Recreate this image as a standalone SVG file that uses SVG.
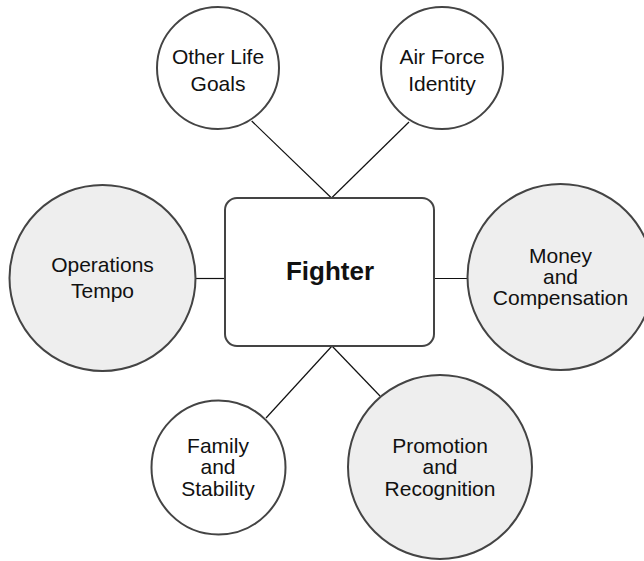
<svg xmlns="http://www.w3.org/2000/svg" width="644" height="561" viewBox="0 0 644 561">
<style>
.node{stroke:#444;stroke-width:2;fill:#fff}
.gray{fill:#eeeeee}
.lbl{font-family:"Liberation Sans",Arial,Helvetica,sans-serif;font-size:21px;fill:#111;text-anchor:middle}
.title{font-family:"Liberation Sans",Arial,Helvetica,sans-serif;font-size:26px;font-weight:bold;fill:#111;text-anchor:middle}
.conn{stroke:#111;stroke-width:1.2;fill:none}
</style>
<rect width="644" height="561" fill="#fff"/>
<g id="connectors">
<line class="conn" x1="331.5" y1="198" x2="251.7" y2="121"/>
<line class="conn" x1="331.5" y1="198" x2="409" y2="122"/>
<line class="conn" x1="196" y1="278.5" x2="225" y2="278.5"/>
<line class="conn" x1="434" y1="278.5" x2="467" y2="278.5"/>
<line class="conn" x1="332" y1="346" x2="266" y2="418"/>
<line class="conn" x1="332" y1="346" x2="380" y2="396"/>
</g>
<g id="fighter">
<rect class="node" x="225" y="198" width="209" height="148" rx="12"/>
<text class="title" x="330" y="280">Fighter</text>
</g>
<g id="other-life-goals">
<circle class="node" cx="218" cy="68" r="61"/>
<text class="lbl" x="218" y="64">Other Life</text>
<text class="lbl" x="218" y="91">Goals</text>
</g>
<g id="air-force-identity">
<circle class="node" cx="442" cy="68" r="61"/>
<text class="lbl" x="442" y="64">Air Force</text>
<text class="lbl" x="442" y="91">Identity</text>
</g>
<g id="operations-tempo">
<circle class="node gray" cx="102.5" cy="278" r="93"/>
<text class="lbl" x="102.5" y="272">Operations</text>
<text class="lbl" x="102.5" y="298">Tempo</text>
</g>
<g id="money-compensation">
<circle class="node gray" cx="560.5" cy="277" r="93"/>
<text class="lbl" x="560.5" y="263">Money</text>
<text class="lbl" x="560.5" y="284">and</text>
<text class="lbl" x="560.5" y="305">Compensation</text>
</g>
<g id="family-stability">
<circle class="node" cx="218.5" cy="467.5" r="67"/>
<text class="lbl" x="218" y="453">Family</text>
<text class="lbl" x="218" y="474">and</text>
<text class="lbl" x="218" y="496">Stability</text>
</g>
<g id="promotion-recognition">
<circle class="node gray" cx="440" cy="467" r="92"/>
<text class="lbl" x="440" y="453">Promotion</text>
<text class="lbl" x="440" y="474">and</text>
<text class="lbl" x="440" y="496">Recognition</text>
</g>
</svg>
